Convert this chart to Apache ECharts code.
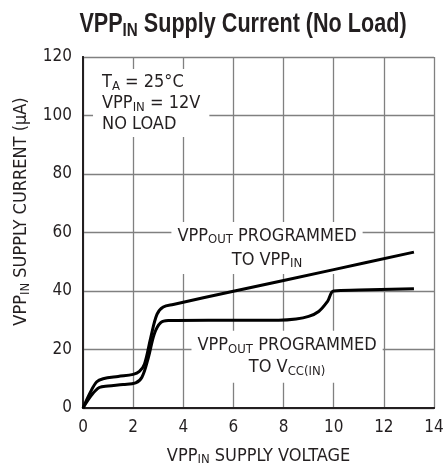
<!DOCTYPE html>
<html>
<head>
<meta charset="utf-8">
<script src="https://cdn.jsdelivr.net/npm/echarts@6/dist/echarts.min.js"></script>
<style>html,body{margin:0;padding:0;background:#fff}#c{width:445px;height:466px}</style>
</head>
<body>
<div id="c"></div>
<script>
// ---- data ----
const xTicks = [0, 2, 4, 6, 8, 10, 12, 14];
const yTicks = [0, 20, 40, 60, 80, 100, 120];

// VPP_OUT programmed to VPP_IN
const toVppX = [0, 0.3, 0.55, 0.8, 1.4, 2.0, 2.25, 2.45, 2.7, 2.95, 3.2, 3.6, 6, 10, 13.2];
const toVppY = [0, 5.5, 9, 10, 10.8, 11.5, 12.5, 15, 24, 32, 34.5, 35.4, 39.9, 47.3, 53.3];

// VPP_OUT programmed to VCC(IN)
const toVccX = [0, 0.35, 0.65, 1.0, 1.6, 2.1, 2.35, 2.6, 2.85, 3.1, 3.4, 5, 7.8, 8.5, 9.0, 9.4, 9.75, 10, 11, 13.2];
const toVccY = [0, 4.5, 7, 7.5, 8, 8.6, 10.5, 17, 25.5, 29.2, 29.9, 30, 30, 30.4, 31.3, 33, 36.4, 40, 40.3, 40.8];

const titleText = ['VPP', 'IN', ' Supply Current (No Load)'];
const xName = ['VPP', 'IN', ' SUPPLY VOLTAGE'];
const yName = ['VPP', 'IN', ' SUPPLY CURRENT (\u03bcA)'];

const FONT = "'DejaVu Sans Condensed','Liberation Sans',sans-serif";
const TFONT = "'Liberation Sans',Arial,sans-serif";

const chart = echarts.init(document.getElementById('c'), null, {renderer: 'canvas'});

const pairs = (xs, ys) => xs.map((x, i) => [x, ys[i]]);

function subRich(size, subSize, lh, shift, bold, fam) {
  const f = fam || FONT;
  return {
    m: {fontSize: size, lineHeight: lh, fontFamily: f, fill: '#231f20', color: '#231f20', fontWeight: bold ? 'bold' : 'normal'},
    s: {fontSize: subSize, lineHeight: lh, fontFamily: f, fill: '#231f20', color: '#231f20', fontWeight: bold ? 'bold' : 'normal', padding: [shift, 0, 0, 0]}
  };
}

const annoStyle = {
  type: 'scatter', symbolSize: 1, itemStyle: {color: 'rgba(0,0,0,0)', opacity: 1}, silent: true, z: 4
};

const option = {
  animation: false,
  backgroundColor: '#fff',
  graphic: [{
    type: 'text', x: 243, y: 25, scaleX: 0.8, scaleY: 1, z: 10,
    style: {
      text: '{m|' + titleText[0] + '}{s|' + titleText[1] + '}{m|' + titleText[2] + '}',
      align: 'center', verticalAlign: 'middle',
      rich: subRich(27, 19, 30, 11, true, TFONT)
    }
  }],
  grid: {left: 83, right: 11, top: 57, bottom: 58, containLabel: false, outerBoundsMode: 'none'},
  xAxis: [{
    type: 'value', min: xTicks[0], max: xTicks[xTicks.length - 1], interval: 2,
    name: '{m|' + xName[0] + '}{s|' + xName[1] + '}{m|' + xName[2] + '}',
    nameLocation: 'middle', nameGap: 37,
    nameTextStyle: {rich: subRich(18, 13, 22, 8, false)},
    axisLine: {lineStyle: {color: '#231f20', width: 2}},
    axisTick: {show: false},
    axisLabel: {fontSize: 17, fontFamily: FONT, color: '#231f20', margin: 11},
    splitLine: {lineStyle: {color: '#808080', width: 1.3}}
  }, {
    type: 'value', position: 'top', min: xTicks[0], max: xTicks[xTicks.length - 1], interval: 2,
    axisLine: {lineStyle: {color: '#231f20', width: 2}},
    axisTick: {show: false}, axisLabel: {show: false}, splitLine: {show: false}
  }],
  yAxis: [{
    type: 'value', min: yTicks[0], max: yTicks[yTicks.length - 1], interval: 20,
    name: '{m|' + yName[0] + '}{s|' + yName[1] + '}{m|' + yName[2] + '}',
    nameLocation: 'middle', nameGap: 38, nameRotate: 90,
    nameTextStyle: {rich: subRich(18, 13, 22, 8, false), padding: [0, 0, 0, 42]},
    axisLine: {lineStyle: {color: '#231f20', width: 2}},
    axisTick: {show: false},
    axisLabel: {fontSize: 17, fontFamily: FONT, color: '#231f20', margin: 11},
    splitLine: {lineStyle: {color: '#808080', width: 1.3}}
  }, {
    type: 'value', position: 'right', min: yTicks[0], max: yTicks[yTicks.length - 1], interval: 20,
    axisLine: {show: true, lineStyle: {color: '#231f20', width: 2}},
    axisTick: {show: false}, axisLabel: {show: false}, splitLine: {show: false}
  }],
  series: [{
    name: 'to VPP', type: 'line', data: pairs(toVppX, toVppY), smooth: 0.35,
    showSymbol: false, lineStyle: {color: '#000', width: 3}, z: 6
  }, {
    name: 'to VCC', type: 'line', data: pairs(toVccX, toVccY), smooth: 0.35,
    showSymbol: false, lineStyle: {color: '#000', width: 3}, z: 6
  }, Object.assign({}, annoStyle, {
    data: [[0.4, 104.3]],
    label: {
      show: true, position: 'inside', align: 'left', verticalAlign: 'middle',
      formatter: '{m|T}{s|A}{m| = 25\u00b0C}\n{m|VPP}{s|IN}{m| = 12V}\n{m|NO LOAD}',
      backgroundColor: '#fff', padding: [3, 9, 2, 9],
      rich: subRich(18, 13, 21, 8, false)
    }
  }), Object.assign({}, annoStyle, {
    data: [[7.34, 54.7]],
    label: {
      show: true, position: 'inside', align: 'center', verticalAlign: 'middle',
      formatter: '{m|VPP}{s|OUT}{m| PROGRAMMED}\n{m|TO VPP}{s|IN}',
      backgroundColor: '#fff', padding: [2, 6, 2, 6],
      rich: subRich(18, 13, 24, 8, false)
    }
  }), Object.assign({}, annoStyle, {
    data: [[8.14, 17.5]],
    label: {
      show: true, position: 'inside', align: 'center', verticalAlign: 'middle',
      formatter: '{m|VPP}{s|OUT}{m| PROGRAMMED}\n{m|TO V}{s|CC(IN)}',
      backgroundColor: '#fff', padding: [4, 6, 4, 6],
      rich: subRich(18, 13, 22, 8, false)
    }
  })]
};
chart.setOption(option);
</script>
</body>
</html>
